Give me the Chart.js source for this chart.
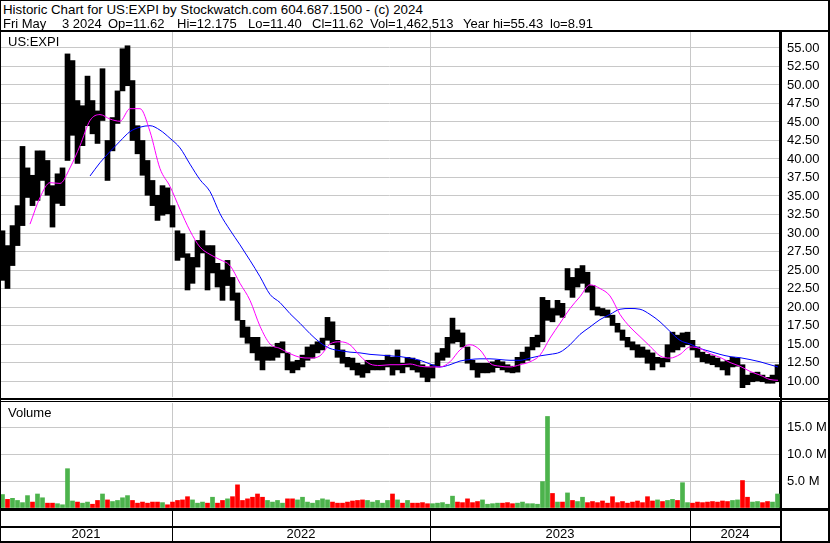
<!DOCTYPE html>
<html>
<head>
<meta charset="utf-8">
<script src="https://cdn.jsdelivr.net/npm/chart.js@4.4.1/dist/chart.umd.min.js"></script>
<style>
body { margin: 0; width: 830px; height: 543px; background: #fff; position: relative; overflow: hidden; font-family: "Liberation Sans", Arial, sans-serif; }
.ln { position: absolute; background: #000; z-index: 5; }
.txt { position: absolute; white-space: pre; font-size: 13px; line-height: 14px; color: #000; z-index: 6; }
#priceBox { position: absolute; left: 0; top: 32px; width: 830px; height: 365px; }
#volBox { position: absolute; left: 0; top: 402px; width: 830px; height: 141px; }
</style>
</head>
<body>
<div class="txt" style="left:3px;top:3px;font-size:13.3px">Historic Chart for US:EXPI by Stockwatch.com 604.687.1500 - (c) 2024</div>
<div class="txt" style="left:3px;top:17px">Fri May</div>
<div class="txt" style="left:62px;top:17px">3 2024</div>
<div class="txt" style="left:108px;top:17px">Op=11.62</div>
<div class="txt" style="left:177px;top:17px">Hi=12.175</div>
<div class="txt" style="left:248px;top:17px">Lo=11.40</div>
<div class="txt" style="left:312px;top:17px">Cl=11.62</div>
<div class="txt" style="left:370px;top:17px">Vol=1,462,513</div>
<div class="txt" style="left:463px;top:17px">Year hi=55.43</div>
<div class="txt" style="left:550px;top:17px">lo=8.91</div>
<div class="txt" style="left:8px;top:35px">US:EXPI</div>
<div class="txt" style="left:8px;top:406px">Volume</div>

<div id="priceBox"><canvas id="priceChart"></canvas></div>
<div id="volBox"><canvas id="volChart"></canvas></div>

<div class="ln" style="left:0;top:0;width:830px;height:1px"></div>
<div class="ln" style="left:0;top:0;width:1px;height:543px"></div>
<div class="ln" style="left:828px;top:0;width:2px;height:543px"></div>
<div class="ln" style="left:0;top:541px;width:830px;height:2px"></div>
<div class="ln" style="left:0;top:30px;width:830px;height:2px"></div>
<div class="ln" style="left:0;top:398px;width:830px;height:2px"></div>
<div class="ln" style="left:0;top:401px;width:830px;height:1px"></div>
<div class="ln" style="left:0;top:508px;width:830px;height:3px"></div>
<div class="ln" style="left:0;top:526px;width:782px;height:2px"></div>
<div class="ln" style="left:780px;top:31px;width:2px;height:512px"></div>

<script>
// trading sessions run along x, one unit per session; samples every 5 sessions
const barStep = 5;
const lastIdx = 778;
const yearStart = [172, 430, 690];
const yearLabels = ['2021', '2022', '2023', '2024'];

const priceHigh = [
    30.3, 28.3, 31.0, 33.7, 41.7, 38.8, 37.8, 41.1, 41.1, 39.8,
    36.4, 38.0, 38.8, 54.2, 53.3, 47.9, 47.2, 51.2, 47.9, 46.5,
    52.2, 42.5, 45.6, 49.2, 54.9, 55.3, 50.6, 44.5, 42.5, 39.8,
    37.1, 35.1, 36.4, 36.1, 33.7, 30.3, 29.9, 27.2, 26.7, 29.0,
    30.3, 28.3, 28.3, 25.9, 25.0, 26.3, 24.0, 21.9, 18.2, 17.3,
    15.9, 15.9, 14.6, 14.6, 14.6, 15.1, 15.3, 13.8, 12.6, 12.8,
    13.5, 14.6, 14.9, 15.3, 15.8, 18.6, 18.0, 15.5, 14.2, 13.2,
    13.1, 12.4, 12.2, 12.8, 12.8, 12.8, 12.8, 13.5, 13.2, 14.2,
    12.4, 13.2, 13.1, 12.8, 12.2, 11.9, 12.2, 13.8, 14.4, 15.9,
    18.5, 16.9, 16.5, 14.6, 12.8, 12.4, 12.4, 12.4, 12.6, 12.8,
    12.6, 12.2, 12.0, 13.2, 13.9, 14.6, 15.9, 16.2, 21.3, 20.9,
    19.8, 20.9, 20.5, 25.2, 24.0, 25.2, 25.6, 24.7, 22.9, 20.0,
    19.8, 19.6, 18.9, 17.8, 16.9, 15.9, 15.3, 14.9, 14.6, 14.2,
    13.8, 13.2, 13.1, 14.9, 16.6, 16.2, 16.5, 16.6, 15.5, 14.6,
    13.9, 13.6, 13.4, 13.1, 12.6, 12.8, 13.2, 13.1, 12.2, 10.8,
    11.1, 11.2, 10.8, 10.5, 10.8, 12.2
];
const priceLow = [
    23.6, 22.5, 25.6, 28.3, 31.0, 34.8, 33.7, 34.4, 37.1, 35.1,
    30.8, 34.0, 33.7, 39.8, 43.2, 39.4, 41.8, 44.5, 43.4, 42.1,
    45.2, 37.1, 41.1, 44.8, 49.2, 49.9, 42.5, 40.7, 37.8, 35.1,
    33.7, 31.7, 32.4, 32.6, 30.8, 26.3, 26.7, 22.3, 23.2, 25.4,
    27.3, 22.3, 24.6, 22.7, 20.9, 22.9, 20.9, 18.2, 15.9, 15.1,
    13.8, 12.8, 11.5, 12.8, 12.8, 13.2, 13.8, 11.5, 11.1, 11.5,
    11.9, 12.8, 13.1, 13.8, 14.2, 15.5, 14.9, 13.2, 12.4, 11.9,
    11.5, 10.8, 10.5, 11.1, 11.5, 11.5, 11.5, 11.9, 10.8, 11.5,
    11.1, 11.9, 11.5, 11.2, 10.5, 9.9, 10.4, 11.9, 12.8, 13.2,
    15.1, 15.3, 14.6, 12.4, 11.5, 10.5, 11.1, 11.1, 11.2, 11.8,
    11.5, 11.2, 11.1, 11.2, 12.4, 12.8, 14.2, 14.6, 15.3, 18.2,
    18.0, 18.9, 18.6, 22.3, 21.3, 22.7, 23.2, 22.0, 19.6, 18.9,
    18.8, 18.6, 17.5, 16.6, 15.5, 14.6, 14.2, 13.2, 13.2, 12.4,
    11.5, 12.4, 11.9, 12.6, 13.9, 14.2, 14.6, 14.9, 14.2, 13.2,
    12.6, 12.4, 12.2, 11.9, 11.5, 10.8, 11.9, 12.0, 9.1, 9.5,
    9.9, 10.0, 9.9, 9.7, 9.7, 9.9
];

// moving averages, one sample every 10 sessions
const maStep = 10;
const pinkStart = 30;
const pinkMa = [
    31.2, 34.8, 36.8, 36.7, 38.8, 41.8, 45.2, 46.0, 45.4, 45.1,
    46.8, 46.8, 43.7, 38.7, 36.3, 33.2, 30.3, 28.1, 27.1, 26.4,
    25.6, 23.2, 20.9, 17.4, 15.0, 14.4, 13.7, 13.2, 13.1, 13.4,
    15.0, 15.3, 14.9, 13.4, 12.3, 12.1, 12.2, 12.2, 12.3, 12.0,
    11.9, 11.9, 12.6, 14.2, 14.9, 14.2, 12.4, 12.0, 11.9, 12.2,
    12.6, 13.5, 15.8, 17.8, 19.8, 21.4, 23.0, 22.5, 21.5, 19.0,
    17.3, 16.0, 14.7, 13.4, 13.1, 13.6, 14.6, 14.4, 13.7, 13.2,
    12.5, 12.0, 11.3, 10.8, 10.2, 10.1
];
const blueStart = 90;
const blueMa = [
    37.7, 39.5, 41.0, 42.4, 43.7, 44.3, 44.5, 43.9, 42.8, 41.5,
    39.3, 37.2, 35.6, 32.6, 30.4, 28.4, 26.3, 24.1, 21.7, 20.6,
    19.1, 17.8, 16.4, 15.2, 14.4, 14.1, 13.9, 13.8, 13.6, 13.5,
    13.4, 13.3, 13.1, 12.8, 12.3, 11.9, 12.2, 12.7, 12.9, 13.0,
    13.0, 12.9, 12.8, 12.8, 13.1, 13.4, 13.6, 13.9, 14.9, 16.3,
    17.3, 18.3, 19.0, 19.7, 19.8, 19.7, 19.0, 18.0, 16.7, 15.5,
    15.0, 14.4, 14.0, 13.6, 13.3, 13.15, 12.9, 12.6, 12.2, 11.9
];

// volume in millions, same 5-session samples as the price bars
const volumeM = [
    2.5, 1.6, 1.8, 1.4, 1.0, 2.3, 1.1, 2.6, 1.9, 0.9,
    0.9, 0.8, 0.6, 7.3, 1.3, 1.1, 0.9, 1.1, 0.7, 1.4,
    2.6, 1.5, 1.2, 1.4, 1.9, 2.3, 1.4, 0.9, 1.1, 0.9,
    1.1, 1.1, 1.0, 0.6, 1.1, 1.4, 1.5, 2.1, 1.5, 0.9,
    1.1, 0.9, 2.0, 0.9, 1.4, 1.7, 2.1, 4.3, 1.4, 1.7,
    2.0, 2.6, 2.0, 1.4, 1.1, 1.4, 0.9, 1.7, 1.7, 1.5,
    2.0, 1.1, 0.9, 1.4, 1.7, 1.5, 1.1, 0.9, 0.9, 1.1,
    1.3, 1.4, 1.5, 1.4, 1.1, 1.4, 0.9, 1.4, 2.6, 1.5,
    0.9, 1.4, 0.9, 0.9, 1.0, 0.8, 0.8, 0.9, 1.0, 0.7,
    2.2, 1.1, 1.0, 1.7, 1.0, 1.2, 1.5, 0.7, 0.8, 0.9,
    0.9, 1.0, 0.8, 0.9, 1.1, 0.8, 0.8, 0.7, 4.9, 17.0,
    2.7, 1.1, 1.1, 2.8, 1.4, 1.2, 2.0, 1.0, 1.2, 1.0,
    1.3, 0.9, 2.1, 1.0, 1.2, 0.9, 1.1, 1.3, 1.0, 2.1,
    1.3, 1.5, 1.2, 1.4, 1.6, 1.4, 4.7, 1.0, 0.9, 1.1,
    1.0, 1.1, 1.2, 1.1, 1.3, 1.2, 1.4, 1.5, 5.1, 2.0,
    1.1, 1.2, 1.0, 1.2, 1.1, 2.6
];

const gridGray = '#c8c8c8';
const fontSpec = { family: '"Liberation Sans", Arial, sans-serif', size: 13 };

function sessionX(i, start, step) {
    return Math.min(start + i * step, lastIdx);
}

function yearMid() {
    const bounds = [0, ...yearStart, 780];
    return yearLabels.map((l, i) => (bounds[i] + bounds[i + 1]) / 2);
}

function noPad(s) {
    s.paddingTop = 0;
    s.paddingBottom = 0;
    s.paddingLeft = 0;
    s.paddingRight = 0;
}

const yearSeparators = {
    id: 'yearSeparators',
    afterDraw(chart) {
        const { ctx, chartArea } = chart;
        const x = chart.scales.x;
        ctx.save();
        ctx.strokeStyle = '#000';
        ctx.lineWidth = 1;
        yearStart.forEach(v => {
            const px = Math.round(x.getPixelForValue(v)) + 0.5;
            ctx.beginPath();
            ctx.moveTo(px, chartArea.bottom);
            ctx.lineTo(px, chart.height);
            ctx.stroke();
        });
        ctx.restore();
    }
};

function drawPrice() {
    const bars = priceHigh.map((h, i) => ({ x: i * barStep + barStep / 2, y: [priceLow[i], h] }));
    const pink = pinkMa.map((v, i) => ({ x: sessionX(i, pinkStart, maStep), y: v }));
    const blue = blueMa.map((v, i) => ({ x: sessionX(i, blueStart, maStep), y: v }));

    new Chart(document.getElementById('priceChart'), {
        data: {
            datasets: [
                { type: 'line', data: pink, borderColor: '#ff00ff', borderWidth: 1, pointRadius: 0, cubicInterpolationMode: 'monotone', order: 0 },
                { type: 'line', data: blue, borderColor: '#0000ff', borderWidth: 1, pointRadius: 0, cubicInterpolationMode: 'monotone', order: 0 },
                { type: 'bar', data: bars, backgroundColor: '#000', barThickness: barStep, order: 1 }
            ]
        },
        options: {
            responsive: true,
            maintainAspectRatio: false,
            animation: false,
            devicePixelRatio: 1,
            layout: { padding: 0 },
            plugins: { legend: { display: false }, tooltip: { enabled: false } },
            scales: {
                x: {
                    type: 'linear', min: 0, max: 780, offset: false,
                    afterBuildTicks: s => { s.ticks = yearStart.map(v => ({ value: v })); },
                    afterFit: s => { s.height = 0; noPad(s); },
                    ticks: { display: false },
                    grid: { color: gridGray, drawTicks: false, offset: false },
                    border: { display: false }
                },
                y: {
                    position: 'right', min: 7.84, max: 57.16,
                    afterFit: s => { s.width = 50; noPad(s); },
                    ticks: { stepSize: 2.5, includeBounds: false, padding: 7, color: '#000', font: fontSpec, callback: v => v.toFixed(2) },
                    grid: { color: gridGray, drawTicks: false },
                    border: { color: '#000', width: 2 }
                }
            }
        }
    });
}

function drawVolume() {
    const mids = yearMid();
    const mid = i => (priceHigh[i] + priceLow[i]) / 2;
    const colors = volumeM.map((v, i) => (i === 0 || mid(i) >= mid(i - 1)) ? '#4cb34c' : '#ff0000');
    const bars = volumeM.map((v, i) => ({ x: i * barStep + barStep / 2, y: v }));

    new Chart(document.getElementById('volChart'), {
        type: 'bar',
        data: { datasets: [{ data: bars, backgroundColor: colors, barThickness: 4 }] },
        options: {
            responsive: true,
            maintainAspectRatio: false,
            animation: false,
            devicePixelRatio: 1,
            layout: { padding: { top: 1 } },
            plugins: { legend: { display: false }, tooltip: { enabled: false } },
            scales: {
                x: {
                    type: 'linear', min: 0, max: 780, offset: false,
                    afterBuildTicks: s => { s.ticks = [...yearStart, ...mids].map(v => ({ value: v })); },
                    afterFit: s => { s.height = 35; noPad(s); },
                    ticks: {
                        autoSkip: false, maxRotation: 0, padding: 19, color: '#000', font: fontSpec,
                        callback: v => { const j = mids.indexOf(v); return j >= 0 ? yearLabels[j] : ''; }
                    },
                    grid: { color: ctx => (ctx.tick && yearStart.includes(ctx.tick.value)) ? gridGray : 'rgba(0,0,0,0)', drawTicks: false, offset: false },
                    border: { display: false }
                },
                y: {
                    position: 'right', min: 0, max: 19.5,
                    afterFit: s => { s.width = 50; noPad(s); },
                    ticks: { stepSize: 5, includeBounds: false, padding: 7, color: '#000', font: fontSpec, callback: v => v === 0 ? '' : v.toFixed(1) + ' M' },
                    grid: { color: gridGray, drawTicks: false },
                    border: { color: '#000', width: 2 }
                }
            }
        },
        plugins: [yearSeparators]
    });
}

drawPrice();
drawVolume();
</script>
</body>
</html>
